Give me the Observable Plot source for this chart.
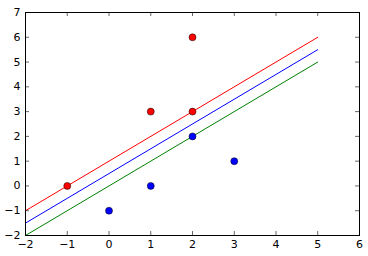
<!DOCTYPE html>
<html><head><meta charset="utf-8">
<script src="https://cdn.jsdelivr.net/npm/d3@7"></script>
<script src="https://cdn.jsdelivr.net/npm/@observablehq/plot@0.6"></script>
<style>body{margin:0;background:#fff}</style>
</head><body><div id="chart"></div>
<script>
const redX = [-1, 1, 2, 2];
const redY = [0, 3, 6, 3];
const blueX = [0, 1, 2, 3];
const blueY = [-1, 0, 2, 1];
const lineX = [-2, 5];
const redLine = [-1, 6];
const blueLine = [-1.5, 5.5];
const greenLine = [-2, 5];
const xTicks = [-2, -1, 0, 1, 2, 3, 4, 5, 6];
const yTicks = [-2, -1, 0, 1, 2, 3, 4, 5, 6, 7];

const W = 368, H = 256, mT = 12, mB = 21, mL = 25, mR = 9;
const fh = H - mT - mB, fw = W - mL - mR, tl = 4;
const pts = (xs, ys) => xs.map((x, i) => ({x, y: ys[i]}));
const fmt = d => d < 0 ? "\u2212" + (-d) : String(d);

const chart = Plot.plot({
  width: W, height: H,
  marginTop: mT, marginBottom: mB, marginLeft: mL, marginRight: mR,
  x: {domain: [-2, 6], label: null},
  y: {domain: [-2, 7], label: null},
  style: {fontFamily: "DejaVu Sans", fontSize: "11px", color: "black", background: "white"},
  marks: [
    Plot.lineY(pts(lineX, redLine), {x: "x", y: "y", stroke: "#ff0000", strokeWidth: 1}),
    Plot.lineY(pts(lineX, blueLine), {x: "x", y: "y", stroke: "#0000ff", strokeWidth: 1}),
    Plot.lineY(pts(lineX, greenLine), {x: "x", y: "y", stroke: "#008000", strokeWidth: 1}),
    Plot.dot(pts(redX, redY), {x: "x", y: "y", r: 3.5, fill: "#ff0000", stroke: "black", strokeWidth: 0.5}),
    Plot.dot(pts(blueX, blueY), {x: "x", y: "y", r: 3.5, fill: "#0000ff", stroke: "black", strokeWidth: 0.5}),
    Plot.ruleX(xTicks, {x: d => d, insetTop: fh - tl, stroke: "black", strokeWidth: 0.6}),
    Plot.ruleX(xTicks, {x: d => d, insetBottom: fh - tl, stroke: "black", strokeWidth: 0.6}),
    Plot.ruleY(yTicks, {y: d => d, insetRight: fw - tl, stroke: "black", strokeWidth: 0.6}),
    Plot.ruleY(yTicks, {y: d => d, insetLeft: fw - tl, stroke: "black", strokeWidth: 0.6}),
    Plot.axisX(xTicks, {tickSize: 0, tickPadding: 5, label: null, tickFormat: fmt}),
    Plot.axisY(yTicks, {tickSize: 0, tickPadding: 5, label: null, tickFormat: fmt}),
    Plot.frame({stroke: "black", strokeWidth: 1})
  ]
});
document.getElementById("chart").appendChild(chart);
</script></body></html>
